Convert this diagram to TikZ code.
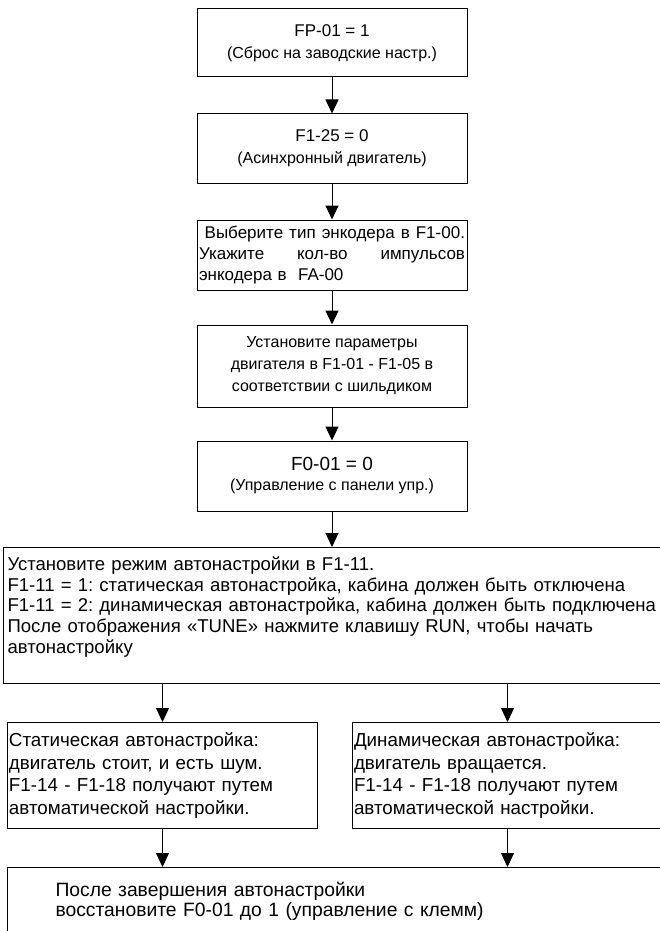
\documentclass[tikz,border=0pt]{standalone}
\usepackage{fontspec}
\setmainfont{Liberation Sans}
\frenchspacing
\usetikzlibrary{
  positioning,
  arrows.meta
}
\definecolor{edge}{HTML}{000000}

\begin{document}
\begin{tikzpicture}[
  x=1pt, y=-1pt,
  blk/.style={draw=edge, line width=1pt, inner sep=0pt, align=center,
              minimum width=270pt, font=\fontsize{16}{22}\selectfont},
  wide/.style={draw=edge, line width=1pt, inner xsep=5pt, inner ysep=0pt, align=left,
               anchor=north west, font=\fontsize{18.55}{20.7}\selectfont},
  arr/.style={edge, line width=1pt, -{Triangle[width=13pt, length=14pt]}}
]
  \useasboundingbox (0,0) rectangle (659,931);

  % Reset and motor type
  \node[blk, minimum height=68pt] (fp) at (332,43)
    {{\fontsize{17}{22}\selectfont FP-01 = 1}\\(Сброс на заводские настр.)};
  \node[blk, minimum height=69pt] (mt) at (332,148.5)
    {{\fontsize{17}{22}\selectfont F1-25 = 0}\\(Асинхронный двигатель)};

  % Encoder
  \node[blk, minimum height=70pt, text width=266pt, inner xsep=2pt, align=left,
        font=\fontsize{17}{20.7}\selectfont] (enc) at (332,255)
    {\leavevmode\hbox to 266pt{\ Выберите\hfill тип\hfill энкодера\hfill в\hfill F1-00.}\\
     \leavevmode\hbox to 266pt{Укажите\hfill кол-во\hfill импульсов}\\
     энкодера в\ \ FA-00};

  % Motor nameplate
  \node[blk, minimum height=82pt] (par) at (332,366)
    {Установите параметры\\двигателя в F1-01 - F1-05 в\\соответствии с шильдиком};

  % Command source
  \node[blk, minimum height=70pt] (ctl) at (332,476)
    {{\fontsize{19}{20}\selectfont F0-01 = 0}\\[-2pt](Управление с панели упр.)};

  % Autotune mode
  \node[wide, text width=680pt, minimum height=136pt, inner xsep=4pt] (tune) at (3,547)
    {Установите режим автонастройки в F1-11.\\
     F1-11 = 1: статическая автонастройка, кабина должен быть отключена\\
     F1-11 = 2: динамическая автонастройка, кабина должен быть подключена\\
     После отображения «TUNE» нажмите клавишу RUN, чтобы начать\\
     автонастройку\\[-6pt]\strut};

  % Static / dynamic
  \node[wide, text width=307pt, inner xsep=1.5pt, minimum height=106pt,
        font=\fontsize{18.8}{22.8}\selectfont] (stat) at (7,722)
    {Статическая автонастройка:\\двигатель стоит, и есть шум.\\
     F1-14 - F1-18 получают путем\\автоматической настройки.};
  \node[wide, text width=307pt, inner xsep=1.5pt, minimum height=106pt,
        font=\fontsize{18.8}{22.8}\selectfont] (dyn) at (352,722)
    {Динамическая автонастройка:\\двигатель вращается.\\
     F1-14 - F1-18 получают путем\\автоматической настройки.};

  % Finish
  \node[wide, text width=610pt, inner xsep=48pt, minimum height=68pt,
        font=\fontsize{19.3}{20.5}\selectfont] (fin) at (7,867)
    {После завершения автонастройки\\восстановите F0-01 до 1 (управление с клемм)};

  \draw[arr] (fp) -- (mt);
  \draw[arr] (mt) -- (enc);
  \draw[arr] (enc) -- (par);
  \draw[arr] (par) -- (ctl);
  \draw[arr] (ctl.south) -- (ctl.south |- tune.north);
  \draw[arr] (stat.north |- tune.south) -- (stat.north);
  \draw[arr] (dyn.north |- tune.south) -- (dyn.north);
  \draw[arr] (stat) -- (stat.south |- fin.north);
  \draw[arr] (dyn) -- (dyn.south |- fin.north);
\end{tikzpicture}
\end{document}
